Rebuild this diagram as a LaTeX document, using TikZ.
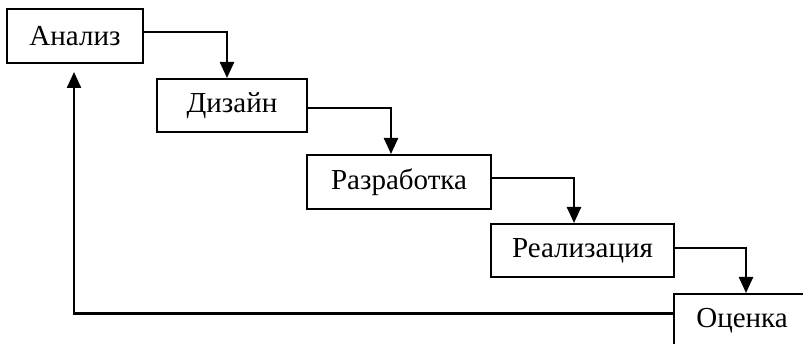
\documentclass[tikz,border=0pt]{standalone}
\usepackage{fontspec}
\setmainfont{Liberation Serif}
\usetikzlibrary{arrows.meta}
\begin{document}
\begin{tikzpicture}[x=1pt,y=-1pt,
  stagebox/.style={draw, line width=2pt, inner sep=0pt, font=\fontsize{29}{32}\selectfont},
  conn/.style={line width=2.4pt, -{Triangle[length=16pt,width=14pt]}}]
  \clip (0,0) rectangle (803,344);
  \fill[white] (0,0) rectangle (803,344);
  \node[stagebox, minimum width=136pt, minimum height=54pt] (A) at (75,36) {Анализ};
  \node[stagebox, minimum width=150pt, minimum height=53pt] (B) at (232,105.5) {Дизайн\hspace{18pt}};
  \node[stagebox, minimum width=184pt, minimum height=54pt] (C) at (399,182) {Разработка};
  \node[stagebox, minimum width=183pt, minimum height=53pt] (D) at (582.5,250.5) {Реализация};
  \node[stagebox, minimum width=136pt, minimum height=53pt] (E) at (742,320.5) {Оценка};
  \draw[conn] ([yshift=4pt]A.east) -| ([xshift=-5pt]B.north);
  \draw[conn] ([yshift=-2.5pt]B.east) -| ([xshift=-8pt]C.north);
  \draw[conn] ([yshift=4pt]C.east) -| ([xshift=-8.5pt]D.north);
  \draw[conn] ([yshift=2.5pt]D.east) -| ([xshift=4pt]E.north);
  \draw[conn] ([yshift=7pt]E.west) -| ([xshift=-1pt,yshift=-8pt]A.south);
\end{tikzpicture}
\end{document}
